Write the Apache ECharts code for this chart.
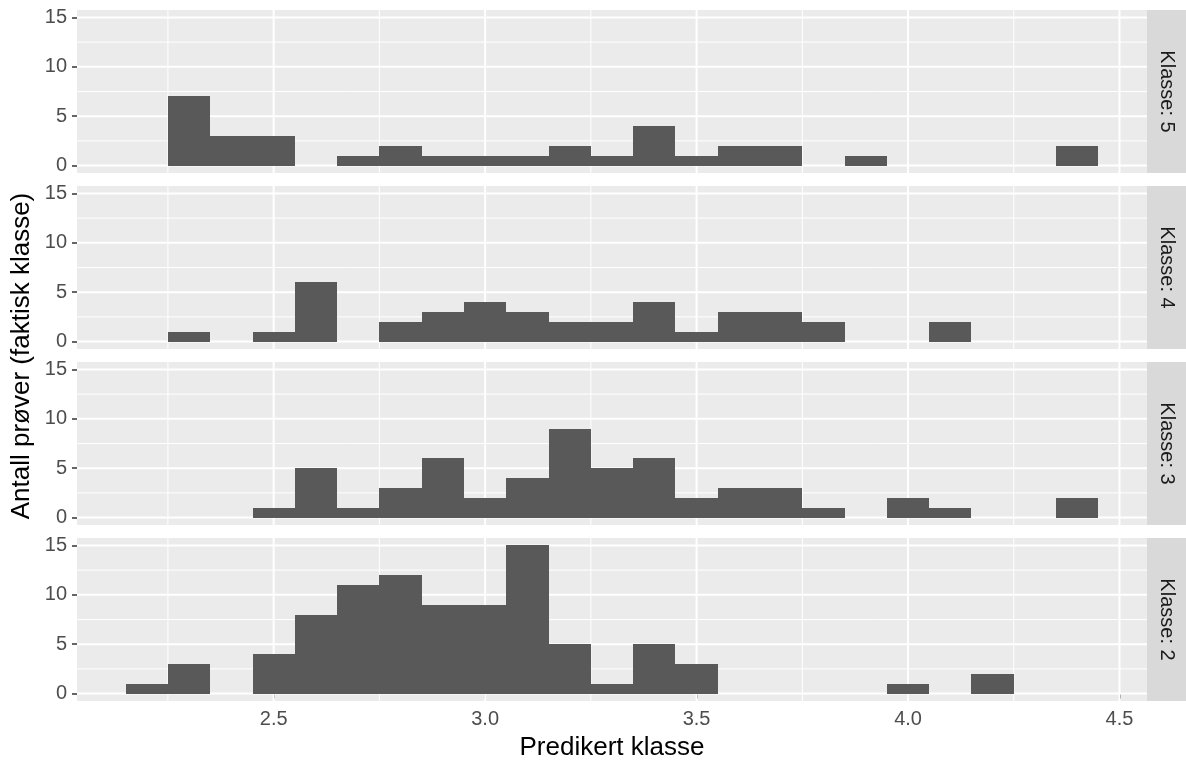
<!DOCTYPE html>
<html>
<head>
<meta charset="utf-8">
<script src="https://cdn.jsdelivr.net/npm/echarts@6/dist/echarts.min.js"></script>
<style>
html,body{margin:0;padding:0;background:#fff;}
#chart{width:1186px;height:762px;}
</style>
</head>
<body>
<div id="chart"></div>
<script>
// ---- data ----
const binCenters = [2.2, 2.3, 2.4, 2.5, 2.6, 2.7, 2.8, 2.9, 3.0, 3.1, 3.2, 3.3, 3.4, 3.5, 3.6, 3.7, 3.8, 3.9, 4.0, 4.1, 4.2, 4.3, 4.4];
const binWidth = 0.1;
const klasse5 = [0, 7, 3, 3, 0, 1, 2, 1, 1, 1, 2, 1, 4, 1, 2, 2, 0, 1, 0, 0, 0, 0, 2];
const klasse4 = [0, 1, 0, 1, 6, 0, 2, 3, 4, 3, 2, 2, 4, 1, 3, 3, 2, 0, 0, 2, 0, 0, 0];
const klasse3 = [0, 0, 0, 1, 5, 1, 3, 6, 2, 4, 9, 5, 6, 2, 3, 3, 1, 0, 2, 1, 0, 0, 2];
const klasse2 = [1, 3, 0, 4, 8, 11, 12, 9, 9, 15, 5, 1, 5, 3, 0, 0, 0, 0, 1, 0, 2, 0, 0];
const panelLabels = ['Klasse: 5', 'Klasse: 4', 'Klasse: 3', 'Klasse: 2'];
const panelCounts = [klasse5, klasse4, klasse3, klasse2];
const xTicks = [2.5, 3.0, 3.5, 4.0, 4.5];
const xMinorTicks = [2.25, 2.75, 3.25, 3.75, 4.25];
const yTicks = [0, 5, 10, 15];
const yMinorTicks = [2.5, 7.5, 12.5];
const xTitle = 'Predikert klasse';
const yTitle = 'Antall prøver (faktisk klasse)';

// ---- layout ----
const FONT = "'Liberation Sans', Arial, sans-serif";
const LEFT = 77, RIGHT_EDGE = 1147, STRIP_W = 39;
const PANEL_TOPS = [10, 186, 362, 538];
const PANEL_H = 163;
const X_MIN = 2.035, X_MAX = 4.565, Y_MIN = -0.75, Y_MAX = 15.75;

const chart = echarts.init(document.getElementById('chart'), null, {renderer: 'canvas'});

const grids = [], xAxes = [], yAxes = [], series = [], graphics = [];

// gridline spec rows: [x, y, kind]  kind 0 x-major, 1 x-minor, 2 y-major, 3 y-minor
const gridRows = [];
xTicks.forEach(v => gridRows.push([v, 0, 0]));
xMinorTicks.forEach(v => gridRows.push([v, 0, 1]));
yTicks.forEach(v => gridRows.push([3, v, 2]));
yMinorTicks.forEach(v => gridRows.push([3, v, 3]));

function renderGridLine(params, api) {
  const cs = params.coordSys;
  const kind = api.value(2);
  if (kind < 2) {
    const x = api.coord([api.value(0), 0])[0];
    return {type: 'line', shape: {x1: x, y1: cs.y, x2: x, y2: cs.y + cs.height},
      style: {stroke: '#ffffff', lineWidth: kind === 0 ? 2 : 1, fill: null}};
  }
  const y = api.coord([3, api.value(1)])[1];
  return {type: 'line', shape: {x1: cs.x, y1: y, x2: cs.x + cs.width, y2: y},
    style: {stroke: '#ffffff', lineWidth: kind === 2 ? 2 : 1, fill: null}};
}

function renderBar(params, api) {
  const c = api.value(0), n = api.value(1);
  if (!n) return null;
  const p0 = api.coord([c - binWidth / 2, 0]);
  const p1 = api.coord([c + binWidth / 2, n]);
  const x0 = Math.round(p0[0]), x1 = Math.round(p1[0]);
  const yb = Math.round(p0[1]), yt = Math.round(p1[1]);
  return {type: 'rect',
    shape: {x: x0, y: yt, width: x1 - x0, height: yb - yt},
    style: {fill: '#595959'}};
}

panelLabels.forEach((label, i) => {
  const isBottom = i === panelLabels.length - 1;
  grids.push({left: LEFT, top: PANEL_TOPS[i], width: RIGHT_EDGE - LEFT, height: PANEL_H,
    show: true, backgroundColor: '#EBEBEB', borderWidth: 0});
  xAxes.push({
    type: 'value', gridIndex: i, min: X_MIN, max: X_MAX,
    axisLine: {show: false},
    splitLine: {show: false},
    axisTick: {show: isBottom, customValues: xTicks, length: 5, lineStyle: {color: '#333333', width: 1.5}},
    axisLabel: {show: isBottom, customValues: xTicks, formatter: v => v.toFixed(1),
      color: '#4D4D4D', fontSize: 20, fontFamily: FONT, margin: 8}
  });
  yAxes.push({
    type: 'value', gridIndex: i, min: Y_MIN, max: Y_MAX,
    axisLine: {show: false},
    splitLine: {show: false},
    axisTick: {show: true, customValues: yTicks, length: 5, lineStyle: {color: '#333333', width: 1.5}},
    axisLabel: {show: true, customValues: yTicks, formatter: v => String(v),
      color: '#4D4D4D', fontSize: 20, fontFamily: FONT, margin: 10}
  });
  series.push({
    type: 'custom', xAxisIndex: i, yAxisIndex: i, silent: true, z: 1,
    renderItem: renderGridLine, data: gridRows, encode: {x: 0, y: 1}
  });
  series.push({
    type: 'custom', name: label, xAxisIndex: i, yAxisIndex: i, silent: true, z: 2,
    renderItem: renderBar,
    data: binCenters.map((c, k) => [c, panelCounts[i][k]]),
    encode: {x: 0, y: 1}
  });
  // facet strip
  graphics.push({type: 'rect', left: RIGHT_EDGE, top: PANEL_TOPS[i],
    shape: {width: STRIP_W, height: PANEL_H}, style: {fill: '#D9D9D9'}, silent: true});
  graphics.push({type: 'text', x: RIGHT_EDGE + STRIP_W / 2, y: PANEL_TOPS[i] + PANEL_H / 2,
    rotation: -Math.PI / 2,
    style: {text: label, fill: '#1A1A1A', font: '20px ' + FONT, align: 'center', verticalAlign: 'middle'}});
});

graphics.push({type: 'text', x: (LEFT + RIGHT_EDGE) / 2, y: 748,
  style: {text: xTitle, fill: '#000000', font: '26px ' + FONT, align: 'center', verticalAlign: 'middle'}});
graphics.push({type: 'text', x: 22, y: 356, rotation: Math.PI / 2,
  style: {text: yTitle, fill: '#000000', font: '26px ' + FONT, align: 'center', verticalAlign: 'middle'}});

chart.setOption({
  animation: false,
  backgroundColor: '#ffffff',
  grid: grids,
  xAxis: xAxes,
  yAxis: yAxes,
  series: series,
  graphic: graphics
});
</script>
</body>
</html>
